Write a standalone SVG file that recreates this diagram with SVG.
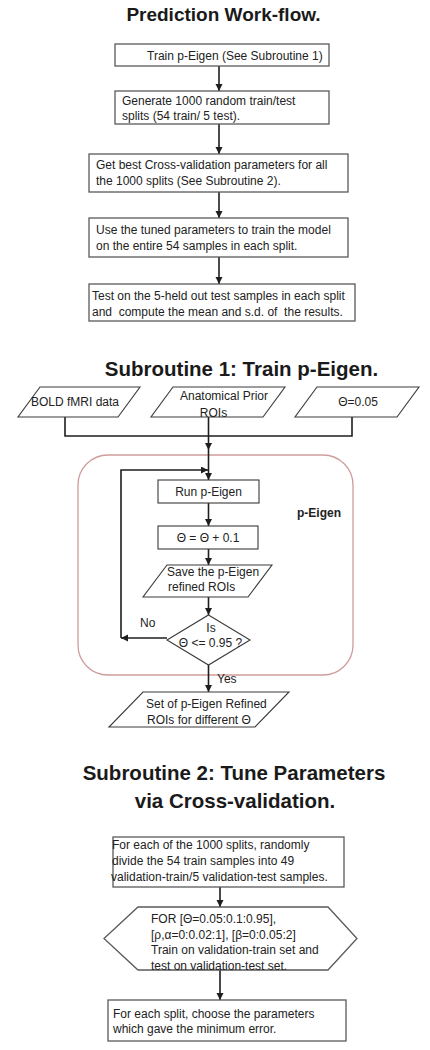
<svg xmlns="http://www.w3.org/2000/svg" width="430" height="1050" viewBox="0 0 430 1050">
<defs>
<style>
.bx{fill:#fff;stroke:#5a5a5a;stroke-width:1.3}
.sh{fill:#fff;stroke:#3a3a3a;stroke-width:1.1}
.ln{fill:none;stroke:#1e1e1e;stroke-width:1.6}
.t{font-family:"Liberation Sans",Arial,sans-serif;font-size:12px;fill:#222;white-space:pre}
.m{text-anchor:middle}
.h{font-family:"Liberation Sans",Arial,sans-serif;font-weight:bold;fill:#1a1a1a;text-anchor:middle}
.grp{fill:none;stroke:#cf9c9c;stroke-width:1.3}
</style>
<marker id="ar" markerUnits="userSpaceOnUse" markerWidth="8" markerHeight="8" refX="7" refY="3.5" orient="auto">
<path d="M0,0 L7,3.5 L0,7 z" fill="#1e1e1e"/>
</marker>
</defs>
<rect width="430" height="1050" fill="#fff"/>

<text class="h" x="223.5" y="21" font-size="19">Prediction Work-flow.</text>
<text class="h" x="241.5" y="376" font-size="20.5">Subroutine 1: Train p-Eigen.</text>
<text class="h" x="234" y="780" font-size="20.5">Subroutine 2: Tune Parameters</text>
<text class="h" x="235" y="808" font-size="20.5">via Cross-validation.</text>

<g id="container-peigen">
<rect class="grp" x="78" y="455" width="275" height="220" rx="30"/>
<text class="t" x="297" y="517" font-weight="bold">p-Eigen</text>
</g>

<g id="connectors">
<path class="ln" d="M219,66 V91" marker-end="url(#ar)"/>
<path class="ln" d="M219,124 V154" marker-end="url(#ar)"/>
<path class="ln" d="M219,192 V218" marker-end="url(#ar)"/>
<path class="ln" d="M219,257 V284" marker-end="url(#ar)"/>
<path class="ln" d="M65,417 V436 H352 V416"/>
<path class="ln" d="M208.5,411 V450" marker-end="url(#ar)"/>
<path class="ln" d="M208.5,450 V480" marker-end="url(#ar)"/>
<path class="ln" d="M208.5,503 V526" marker-end="url(#ar)"/>
<path class="ln" d="M208.5,549 V565" marker-end="url(#ar)"/>
<path class="ln" d="M208.5,597 V615" marker-end="url(#ar)"/>
<path class="ln" d="M167,638 H121" marker-end="url(#ar)"/>
<path class="ln" d="M121,638 V470 H208" marker-end="url(#ar)"/>
<path class="ln" d="M208.5,665 V692" marker-end="url(#ar)"/>
<path class="ln" d="M220,887 V907" marker-end="url(#ar)"/>
<path class="ln" d="M220,970 V1000" marker-end="url(#ar)"/>
<text class="t" x="140" y="627">No</text>
<text class="t" x="217" y="683">Yes</text>
</g>

<g id="n-train">
<rect class="bx" x="115" y="44" width="214" height="22"/>
<text class="t" x="147" y="59.5">Train p-Eigen (See Subroutine 1)</text>
</g>
<g id="n-generate">
<rect class="bx" x="115" y="91" width="214" height="33"/>
<text class="t" x="122" y="104.5">Generate 1000 random train/test</text>
<text class="t" x="122" y="119.5">splits (54 train/ 5 test).</text>
</g>
<g id="n-bestcv">
<rect class="bx" x="89" y="154" width="259" height="38"/>
<text class="t" x="96" y="169">Get best Cross-validation parameters for all</text>
<text class="t" x="96" y="185">the 1000 splits (See Subroutine 2).</text>
</g>
<g id="n-tuned">
<rect class="bx" x="89" y="218" width="259" height="39"/>
<text class="t" x="96" y="234">Use the tuned parameters to train the model</text>
<text class="t" x="96" y="250">on the entire 54 samples in each split.</text>
</g>
<g id="n-test">
<rect class="bx" x="89" y="284" width="266" height="37"/>
<text class="t" x="92" y="300">Test on the 5-held out test samples in each split</text>
<text class="t" x="92" y="316" xml:space="preserve">and  compute the mean and s.d. of  the results.</text>
</g>

<g id="n-bold">
<polygon class="sh" points="40,387 140,387 118,417 18,417"/>
<text class="t m" x="75" y="406">BOLD fMRI data</text>
</g>
<g id="n-anat">
<polygon class="sh" points="173,387 285,387 263,417 151,417"/>
<text class="t m" x="224" y="400">Anatomical Prior</text>
<text class="t m" x="213.5" y="417">ROIs</text>
</g>
<g id="n-theta0">
<polygon class="sh" points="317,387 419,387 397,417 295,417"/>
<text class="t m" x="358" y="406">Θ=0.05</text>
</g>
<g id="n-run">
<rect class="sh" x="158" y="480" width="101" height="23"/>
<text class="t m" x="208.5" y="496">Run p-Eigen</text>
</g>
<g id="n-inc">
<rect class="sh" x="158" y="526" width="100" height="23"/>
<text class="t m" x="208" y="542">Θ = Θ + 0.1</text>
</g>
<g id="n-save">
<polygon class="sh" points="167,565 272,565 248,597 143,597"/>
<text class="t" x="167" y="576">Save the p-Eigen</text>
<text class="t" x="168" y="591">refined ROIs</text>
</g>
<g id="n-cond">
<polygon class="sh" points="208.5,615 250,640 208.5,665 167,640"/>
<text class="t m" x="211" y="632">Is</text>
<text class="t m" x="210.5" y="647">Θ &lt;= 0.95 ?</text>
</g>
<g id="n-set">
<polygon class="sh" points="143,692 289,692 255,727 109,727"/>
<text class="t" x="146" y="708">Set of p-Eigen Refined</text>
<text class="t" x="147" y="724">ROIs for different Θ</text>
</g>

<g id="n-divide">
<rect class="bx" x="113" y="837" width="231" height="50"/>
<text class="t" x="112" y="849" font-size="12.3">For each of the 1000 splits, randomly</text>
<text class="t" x="112" y="865" font-size="12.3">divide the 54 train samples into 49</text>
<text class="t" x="111" y="881" font-size="12.3">validation-train/5 validation-test samples.</text>
</g>
<g id="n-for">
<polygon class="bx" points="138,907 328,907 357,938.5 328,970 138,970 104,938.5"/>
<text class="t" x="151" y="923" font-size="12.3">FOR [Θ=0.05:0.1:0.95],</text>
<text class="t" x="151" y="938.5" font-size="12.3">[ρ,α=0:0.02:1], [β=0:0.05:2]</text>
<text class="t" x="151" y="954" font-size="12.3">Train on validation-train set and</text>
<text class="t" x="151" y="969.5" font-size="12.3">test on validation-test set.</text>
</g>
<g id="n-choose">
<rect class="bx" x="108" y="1000" width="238" height="41"/>
<text class="t" x="113" y="1018" font-size="12.3">For each split, choose the parameters</text>
<text class="t" x="113" y="1033" font-size="12.3">which gave the minimum error.</text>
</g>
</svg>
